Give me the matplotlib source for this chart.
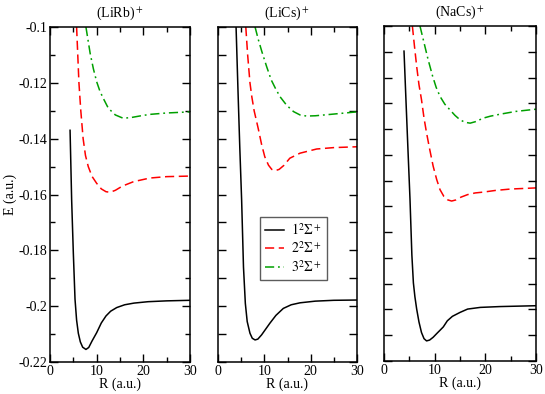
import numpy as np
import matplotlib
matplotlib.use("Agg")
import matplotlib.pyplot as plt
from matplotlib.ticker import FixedLocator

plt.rcParams['font.family'] = ['Liberation Serif', 'DejaVu Serif']
plt.rcParams['mathtext.fontset'] = 'stix'
plt.rcParams['axes.unicode_minus'] = False

titles = ['(LiRb)$^+$', '(LiCs)$^+$', '(NaCs)$^+$']
state_labels = ['$1^2\\Sigma^+$', '$2^2\\Sigma^+$', '$3^2\\Sigma^+$']

# (LiRb)+
lirb_r1 = [4.3, 4.64, 5.0, 5.36, 5.7, 6.07, 6.5, 7.0, 7.7, 8.3, 9.0, 10.0, 11.0, 12.0, 13.0, 14.3, 16, 18, 21, 25, 30]
lirb_e1 = [-0.137, -0.162, -0.181, -0.1975, -0.205, -0.2097, -0.2128, -0.2147, -0.2155, -0.2148, -0.2125, -0.2095,
           -0.2060, -0.2035, -0.2018, -0.2005, -0.1995, -0.1989, -0.1984, -0.1981, -0.1979]
lirb_r2 = [5.7, 5.95, 6.2, 6.6, 7.1, 7.6, 8.2, 9.0, 10.0, 11.0, 12.0, 12.9, 14.0, 15.5, 17.9, 21.4, 25, 30]
lirb_e2 = [-0.100, -0.110, -0.120, -0.130, -0.140, -0.146, -0.150, -0.1535, -0.156, -0.158, -0.159, -0.1592,
           -0.1585, -0.157, -0.1554, -0.1541, -0.1536, -0.1534]
lirb_r3 = [7.7, 8.6, 9.3, 10.0, 10.7, 11.4, 12.5, 14.0, 15.7, 17.5, 19.5, 21.4, 25, 30]
lirb_e3 = [-0.100, -0.1094, -0.115, -0.1196, -0.123, -0.1255, -0.1291, -0.1315, -0.1327, -0.1324, -0.1318,
           -0.1313, -0.1308, -0.1304]

# (LiCs)+
lics_r1 = [3.9, 4.3, 4.7, 5.1, 5.5, 5.9, 6.3, 6.9, 7.4, 8.0, 8.6, 9.4, 10.3, 11.2, 12.5, 14.1, 15.8, 17.7, 21, 25, 30]
lics_e1 = [-0.100, -0.122, -0.143, -0.162, -0.186, -0.199, -0.2055, -0.2097, -0.2115, -0.2121, -0.2118, -0.2103,
           -0.2082, -0.2061, -0.2033, -0.2008, -0.1995, -0.1988, -0.1982, -0.1979, -0.1978]
lics_r2 = [6.0, 6.4, 6.9, 7.3, 7.8, 8.7, 9.4, 10.1, 10.9, 11.6, 12.3, 13.2, 14.2, 15.5, 17.7, 21.3, 25, 30]
lics_e2 = [-0.100, -0.110, -0.120, -0.125, -0.130, -0.1365, -0.142, -0.1465, -0.1495, -0.151, -0.1515, -0.151,
           -0.1496, -0.147, -0.1452, -0.1437, -0.1432, -0.1429]
lics_r3 = [8.0, 8.7, 9.5, 10.5, 11.5, 12.4, 13.4, 14.8, 16.3, 17.7, 19.1, 21, 24.9, 30]
lics_e3 = [-0.100, -0.1045, -0.109, -0.1142, -0.119, -0.122, -0.125, -0.128, -0.1303, -0.1315, -0.1319, -0.1318,
           -0.1312, -0.1304]

# (NaCs)+
nacs_r1 = [3.95, 4.3, 4.7, 5.13, 5.5, 5.8, 6.1, 6.45, 6.9, 7.4, 7.9, 8.4, 9.0, 9.7, 10.5, 11.05, 11.7, 12.5, 13.5,
           15, 16.5, 19, 22.9, 30]
nacs_e1 = [-0.109, -0.125, -0.143, -0.162, -0.182, -0.192, -0.197, -0.2014, -0.206, -0.2098, -0.2120, -0.2128,
           -0.2125, -0.2115, -0.2100, -0.2090, -0.2078, -0.2056, -0.2040, -0.2026, -0.2014, -0.2008, -0.2005, -0.2002]
nacs_r2 = [5.6, 6.0, 6.45, 6.9, 7.4, 7.9, 8.4, 9.0, 9.7, 10.4, 11.05, 11.8, 12.6, 13.35, 14.2, 15.2, 16.5, 18,
           19.6, 22, 25, 30]
nacs_e2 = [-0.100, -0.107, -0.1145, -0.121, -0.1264, -0.133, -0.1383, -0.144, -0.1502, -0.155, -0.1586, -0.1610,
           -0.1623, -0.1627, -0.1623, -0.1613, -0.1604, -0.1598, -0.1595, -0.1589, -0.1584, -0.1580]
nacs_r3 = [7.1, 7.9, 8.7, 9.6, 10.3, 11.05, 12, 13, 14, 15, 16, 17, 18, 19.6, 21, 22.9, 26, 30]
nacs_e3 = [-0.100, -0.106, -0.112, -0.118, -0.122, -0.1252, -0.128, -0.130, -0.132, -0.1336, -0.1345, -0.1348,
           -0.1343, -0.1330, -0.1323, -0.1316, -0.1306, -0.1298]

panels = [
    [(lirb_r1, lirb_e1), (lirb_r2, lirb_e2), (lirb_r3, lirb_e3)],
    [(lics_r1, lics_e1), (lics_r2, lics_e2), (lics_r3, lics_e3)],
    [(nacs_r1, nacs_e1), (nacs_r2, nacs_e2), (nacs_r3, nacs_e3)],
]
colors = ['black', '#ff0000', '#00a000']
styles = ['-', (0, (6, 3)), (0, (6, 2.5, 1.2, 2.5))]

W, H = 545, 394
fs = 10
fig = plt.figure(figsize=(W / 100, H / 100), dpi=100)
boxes = [(50, 190, 27, 362), (218, 357, 27, 362), (384, 536, 26, 361)]

for i, (x0, x1, y0, y1) in enumerate(boxes):
    ax = fig.add_axes([x0 / W, 1 - y1 / H, (x1 - x0) / W, (y1 - y0) / H])
    for j, (r, e) in enumerate(panels[i]):
        ax.plot(r, e, color=colors[j], linestyle=styles[j], lw=1.1, label=state_labels[j])
    ax.set_xlim(0, 30)
    ax.set_ylim(-0.22, -0.1)
    ax.xaxis.set_major_locator(FixedLocator([0, 10, 20, 30]))
    ax.xaxis.set_minor_locator(FixedLocator([5, 15, 25]))
    if i == 0:
        ax.yaxis.set_major_locator(FixedLocator(np.linspace(-0.22, -0.1, 7)))
        ax.yaxis.set_minor_locator(FixedLocator(np.linspace(-0.21, -0.11, 6)))
        ax.set_yticklabels(['%g' % v for v in np.linspace(-0.22, -0.1, 7)])
        ax.set_ylabel('E (a.u.)', fontsize=fs, labelpad=1)
    elif i == 1:
        ax.yaxis.set_major_locator(FixedLocator(np.linspace(-0.22, -0.1, 13)))
        ax.set_yticklabels([])
    else:
        ax.yaxis.set_major_locator(FixedLocator(np.linspace(-0.22, -0.1, 14)))
        ax.set_yticklabels([])
    ax.tick_params(which='both', direction='in', top=True, right=True, labelsize=fs, width=1, pad=2)
    ax.tick_params(which='major', length=6)
    ax.tick_params(which='minor', length=3.5)
    for s in ax.spines.values():
        s.set_linewidth(1.1)
    ax.set_xlabel('R (a.u.)', fontsize=fs, labelpad=0)
    ax.set_title(titles[i], fontsize=fs, pad=7)
    if i == 1:
        leg = ax.legend(loc='upper left', bbox_to_anchor=(0.30, 0.433), fancybox=False, fontsize=fs,
                        handlelength=1.4, borderpad=0.35, labelspacing=0.2, handletextpad=0.5,
                        borderaxespad=0)
        leg.get_frame().set_edgecolor('#333333')
        leg.get_frame().set_linewidth(1.0)

fig.savefig('out.png', dpi=100)
